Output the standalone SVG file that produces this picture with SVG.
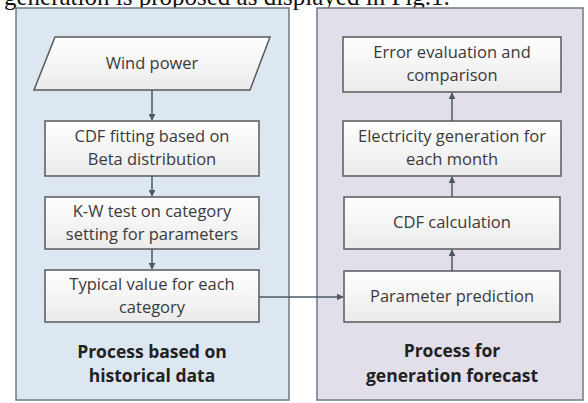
<svg xmlns="http://www.w3.org/2000/svg" width="588" height="403" viewBox="0 0 588 403">
<defs>
<linearGradient id="boxg" x1="0" y1="0" x2="0" y2="1">
<stop offset="0" stop-color="#ffffff"/>
<stop offset="1" stop-color="#ebebeb"/>
</linearGradient>
<marker id="ah" viewBox="0 0 10 10" refX="9" refY="5" markerWidth="7" markerHeight="7" markerUnits="userSpaceOnUse" orient="auto">
<path d="M0,0 L10,5 L0,10 z" fill="#4d5863"/>
</marker>
<style>
.panelL{fill:#dce7f1;stroke:#6f7a84;stroke-width:1.5}
.panelR{fill:#e2dfeb;stroke:#6f7a84;stroke-width:1.5}
.box{fill:url(#boxg);stroke:#5a5a5a;stroke-width:1.5}
.t{font-family:"Open Sans","Liberation Sans",sans-serif;font-size:16.5px;fill:#3a3a3a;text-anchor:middle}
.h{font-family:"Open Sans","Liberation Sans",sans-serif;font-size:17.5px;font-weight:bold;fill:#222;text-anchor:middle}
.cap{font-family:"Liberation Serif",serif;font-size:25px;fill:#111}
.c{stroke:#4d5863;stroke-width:1.5;fill:none;marker-end:url(#ah)}
</style>
</defs>
<rect width="588" height="403" fill="#ffffff"/>
<text class="cap" x="4" y="5">generation is proposed as displayed in Fig.1.</text>
<g id="panel-left">
<rect class="panelL" x="16" y="8" width="273" height="392"/>
<text class="h" x="152" y="358">Process based on</text>
<text class="h" x="152" y="382">historical data</text>
</g>
<g id="panel-right">
<rect class="panelR" x="317" y="8" width="266" height="392"/>
<text class="h" x="452" y="357">Process for</text>
<text class="h" x="452" y="382">generation forecast</text>
</g>
<g id="wind-power">
<path class="box" d="M55,37 L270,37 L250,90 L34,90 Z"/>
<text class="t" x="152" y="69">Wind power</text>
</g>
<g id="cdf-fitting">
<rect class="box" x="45" y="121" width="214" height="55"/>
<text class="t" x="152" y="142">CDF fitting based on</text>
<text class="t" x="152" y="165">Beta distribution</text>
</g>
<g id="kw-test">
<rect class="box" x="45" y="197" width="214" height="52"/>
<text class="t" x="152" y="217">K-W test on category</text>
<text class="t" x="152" y="240">setting for parameters</text>
</g>
<g id="typical-value">
<rect class="box" x="45" y="270" width="214" height="52"/>
<text class="t" x="152" y="290">Typical value for each</text>
<text class="t" x="152" y="313">category</text>
</g>
<g id="error-eval">
<rect class="box" x="343" y="37" width="218" height="55"/>
<text class="t" x="452" y="58">Error evaluation and</text>
<text class="t" x="452" y="81">comparison</text>
</g>
<g id="electricity">
<rect class="box" x="343" y="121" width="218" height="55"/>
<text class="t" x="452" y="142">Electricity generation for</text>
<text class="t" x="452" y="165">each month</text>
</g>
<g id="cdf-calc">
<rect class="box" x="344" y="197" width="216" height="52"/>
<text class="t" x="452" y="228">CDF calculation</text>
</g>
<g id="param-pred">
<rect class="box" x="344" y="271" width="216" height="51"/>
<text class="t" x="452" y="302">Parameter prediction</text>
</g>
<g id="connectors">
<line class="c" x1="152" y1="90" x2="152" y2="120"/>
<line class="c" x1="152" y1="176" x2="152" y2="196"/>
<line class="c" x1="152" y1="249" x2="152" y2="269"/>
<line class="c" x1="259" y1="297" x2="343" y2="297"/>
<line class="c" x1="452" y1="271" x2="452" y2="250"/>
<line class="c" x1="452" y1="197" x2="452" y2="177"/>
<line class="c" x1="452" y1="121" x2="452" y2="93"/>
</g>
</svg>
